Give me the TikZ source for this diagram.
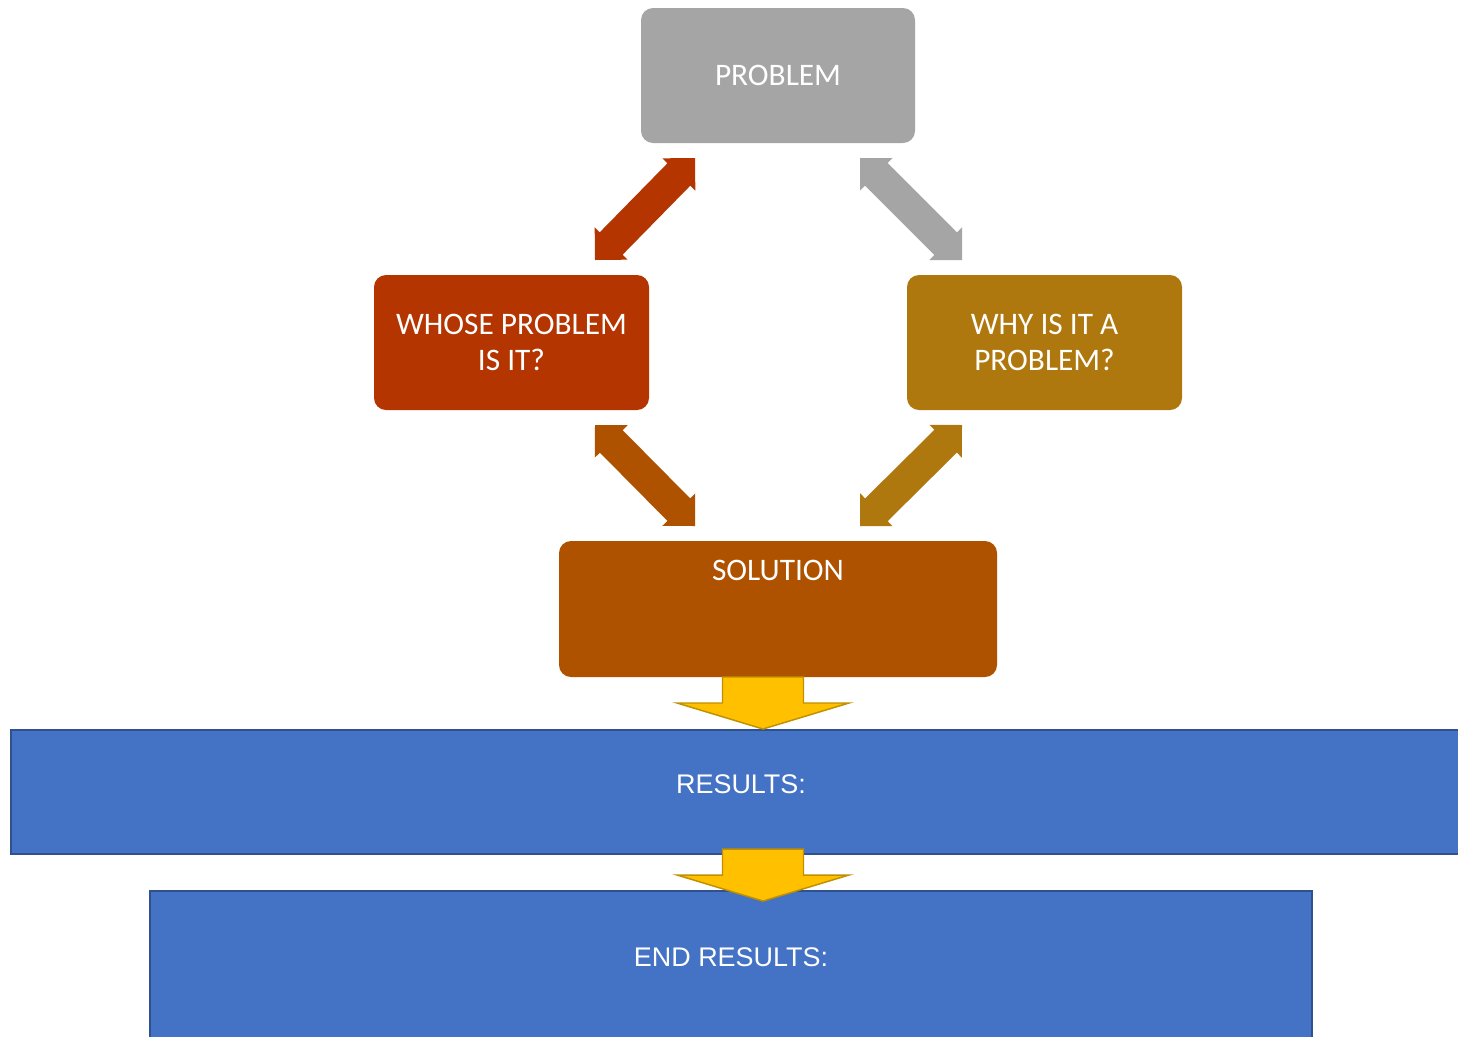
\documentclass[tikz,border=0pt]{standalone}
\usepackage{fontspec}
\setmainfont{Carlito}
\newfontfamily\arialfont{Liberation Sans}
\usetikzlibrary{calc}

\definecolor{boxgray}{HTML}{A5A5A5}
\definecolor{boxred}{HTML}{B43500}
\definecolor{boxgold}{HTML}{AE780F}
\definecolor{boxorange}{HTML}{AF5200}
\definecolor{bandblue}{HTML}{4472C4}
\definecolor{bandedge}{HTML}{2F528F}
\definecolor{arrowyellow}{HTML}{FFC000}
\definecolor{arrowedge}{HTML}{BF9000}

% double-headed block arrow between two points, right-angled heads
\newcommand\dblarrow[3]{%
  \fill[#3] (#1)
    -- ($(#1)!17.3pt!(#2)!17.3pt!90:(#2)$)
    -- ($(#1)!17.3pt!(#2)!12pt!90:(#2)$)
    -- ($(#2)!17.3pt!(#1)!12pt!-90:(#1)$)
    -- ($(#2)!17.3pt!(#1)!17.3pt!-90:(#1)$)
    -- (#2)
    -- ($(#2)!17.3pt!(#1)!17.3pt!90:(#1)$)
    -- ($(#2)!17.3pt!(#1)!12pt!90:(#1)$)
    -- ($(#1)!17.3pt!(#2)!12pt!-90:(#2)$)
    -- ($(#1)!17.3pt!(#2)!17.3pt!-90:(#2)$)
    -- cycle;}

\begin{document}
\begin{tikzpicture}[x=0.75pt,y=-0.75pt,
  card/.style={rounded corners=9pt, text=white, align=center, inner sep=0pt,
    font=\fontsize{23.5}{26.5}\selectfont},
  band/.style={fill=bandblue, draw=bandedge, line width=1.5pt, inner sep=0pt},
  bandtext/.style={text=white, font=\arialfont\fontsize{20.2}{23}\selectfont},
  downarrow/.style={fill=arrowyellow, draw=arrowedge, line width=1.1pt, line join=miter}
]
\useasboundingbox (0,0) rectangle (1458,1036);

% rounded boxes of the cycle
\node[card, fill=boxgray, minimum width=205.5pt, minimum height=101.25pt]
  (problem) at (778,75.5) {PROBLEM};
\node[card, fill=boxred, minimum width=206.25pt, minimum height=101.25pt]
  (whose) at (511.5,342.5) {WHOSE PROBLEM\\IS IT?};
\node[card, fill=boxgold, minimum width=206.25pt, minimum height=101.25pt]
  (why) at (1044.5,342.5) {WHY IS IT A\\PROBLEM?};
\node[card, fill=boxorange, minimum width=328.5pt, minimum height=102pt,
  label={[text=white, font=\fontsize{23.5}{26.5}\selectfont, yshift=29.25pt]center:SOLUTION}]
  (solution) at (778,609) {};

% diagonal double arrows
\coordinate (r1) at (595,260); \coordinate (r2) at (695,158);
\coordinate (g1) at (860,158); \coordinate (g2) at (962,260);
\coordinate (o1) at (595,425); \coordinate (o2) at (695,526);
\coordinate (y1) at (962,425); \coordinate (y2) at (860,526);
\dblarrow{r1}{r2}{boxred}
\dblarrow{g1}{g2}{boxgray}
\dblarrow{o1}{o2}{boxorange}
\dblarrow{y1}{y2}{boxgold}

% result bands
\node[band, minimum width=1095pt, minimum height=93pt,
  label={[bandtext, yshift=6pt]center:{RESULTS:}}]
  (results) at (741,792) {};
\node[band, minimum width=871.5pt, minimum height=126.75pt,
  label={[bandtext, yshift=13.9pt]center:{END RESULTS:}}]
  (endresults) at (731,975.5) {};

% downward block arrows
\coordinate (d1top) at (763,677); \coordinate (d1tip) at (763,729);
\coordinate (d2top) at (763,849); \coordinate (d2tip) at (763,901);
\foreach \a/\b in {d1top/d1tip, d2top/d2tip}{
  \draw[downarrow] ($(\a)+(-40.5,0)$) -- ($(\a)+(40.5,0)$) -- ($(\b)+(40.5,-26)$)
    -- ($(\b)+(86,-26)$) -- (\b) -- ($(\b)+(-86,-26)$)
    -- ($(\b)+(-40.5,-26)$) -- cycle;
}
\end{tikzpicture}
\end{document}
